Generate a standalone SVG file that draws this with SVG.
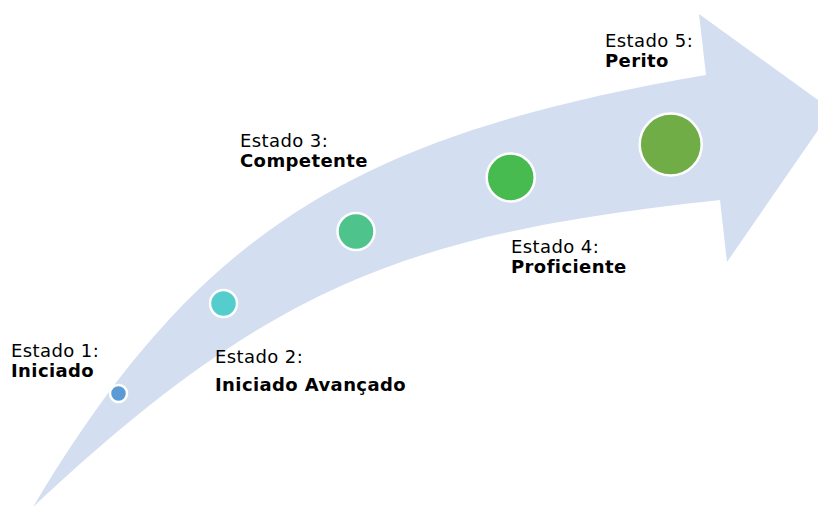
<svg xmlns="http://www.w3.org/2000/svg" width="818" height="507" viewBox="0 0 818 507">
<style>
.lbl{font-family:"DejaVu Sans","Verdana",sans-serif;font-size:18px;fill:#000;letter-spacing:0.4px}
.b{font-weight:bold}
.dot{stroke:#fff;stroke-width:2.5}
</style>
<rect width="818" height="507" fill="#fff"/>
<g id="arrow">
<path d="M33,507 C199,229 356,135 706,75 L699,14 L832,110 L727,262 L720,200 C420,233 277,277 33,507 Z" fill="#D3DEF0"/>
</g>
<g id="connectors"></g>
<g id="node1"><circle class="dot" cx="118.5" cy="393.5" r="8.5" fill="#5B9BD5"/><text class="lbl" x="11" y="357">Estado 1:</text><text class="lbl b" x="11" y="377">Iniciado</text></g>
<g id="node2"><circle class="dot" cx="223.5" cy="303.5" r="13.5" fill="#56CDCD"/><text class="lbl" x="215" y="363">Estado 2:</text><text class="lbl b" x="215" y="391">Iniciado Avançado</text></g>
<g id="node3"><circle class="dot" cx="356" cy="231.5" r="18.5" fill="#4EC48C"/><text class="lbl" x="240" y="147">Estado 3:</text><text class="lbl b" x="240" y="167">Competente</text></g>
<g id="node4"><circle class="dot" cx="510.7" cy="177.5" r="24" fill="#48BB50"/><text class="lbl" x="511" y="253">Estado 4:</text><text class="lbl b" x="511" y="273">Proficiente</text></g>
<g id="node5"><circle class="dot" cx="670.7" cy="144.5" r="31" fill="#70AD47"/><text class="lbl" x="605" y="47">Estado 5:</text><text class="lbl b" x="605" y="67">Perito</text></g>
</svg>
